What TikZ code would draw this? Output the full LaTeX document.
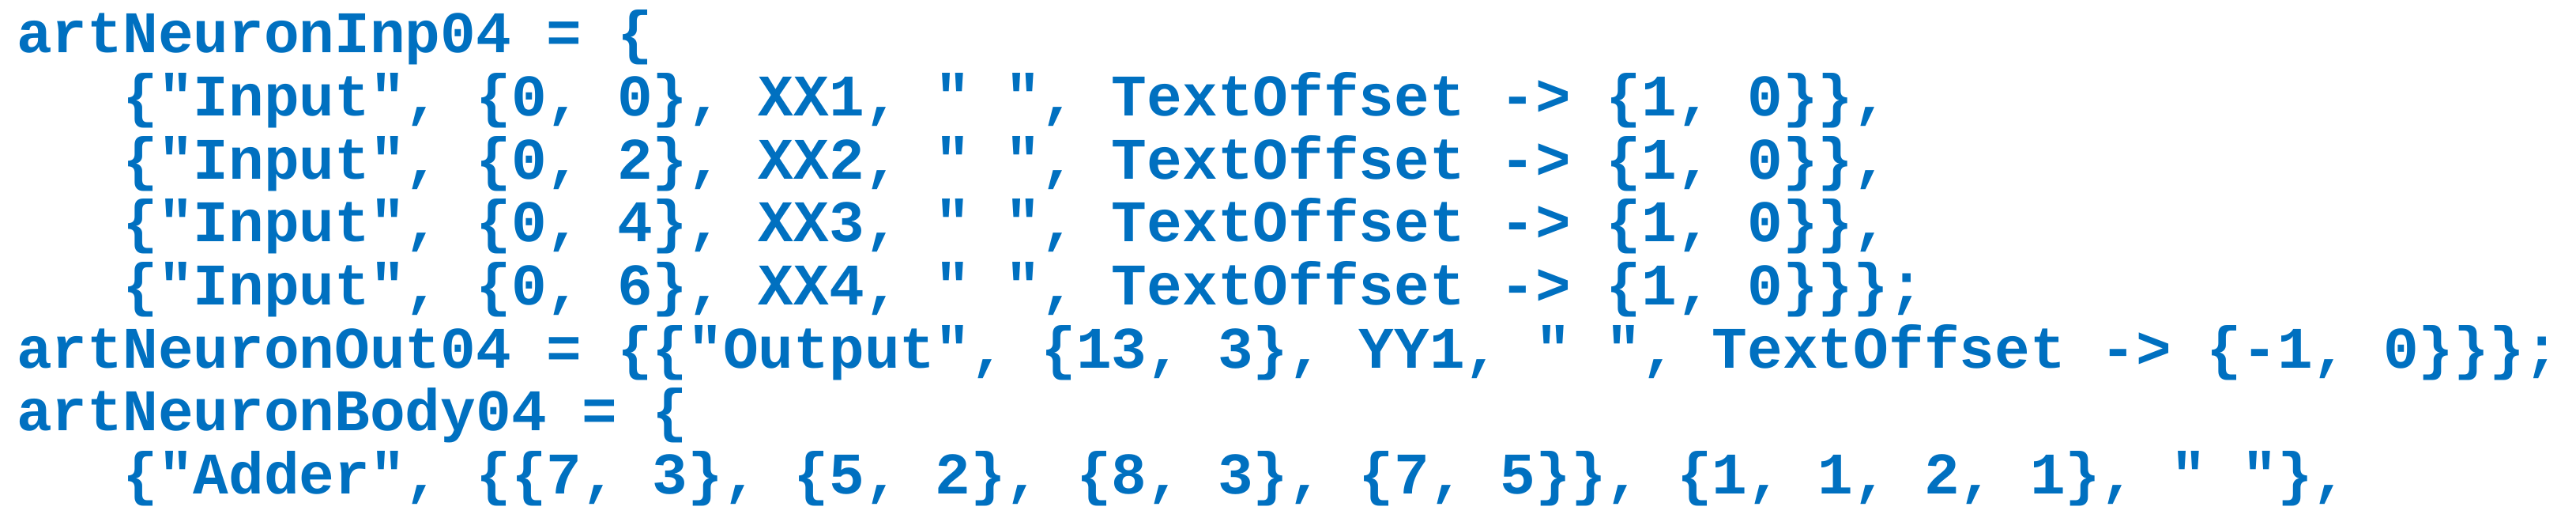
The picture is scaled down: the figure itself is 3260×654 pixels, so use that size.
\documentclass[tikz,border=0pt]{standalone}
\usepackage{fontspec}
\setmonofont{Liberation Mono}
\definecolor{codeblue}{RGB}{0,112,192}
\begin{document}
\begin{tikzpicture}[x=1pt,y=1pt,
  codeline/.style={anchor=base west,inner sep=0pt,text=codeblue,font=\ttfamily\bfseries\fontsize{74.5}{80}\selectfont}]
\useasboundingbox (0,0) rectangle (3260,654);
\def\ls{79.6}
\node[codeline] (l1) at (21,587) {artNeuronInp04 = \{};
\node[codeline] (l2) at (21,587-\ls) {\ \ \ \{"Input", \{0, 0\}, XX1, " ", TextOffset -> \{1, 0\}\},};
\node[codeline] (l3) at (21,587-2*\ls) {\ \ \ \{"Input", \{0, 2\}, XX2, " ", TextOffset -> \{1, 0\}\},};
\node[codeline] (l4) at (21,587-3*\ls) {\ \ \ \{"Input", \{0, 4\}, XX3, " ", TextOffset -> \{1, 0\}\},};
\node[codeline] (l5) at (21,587-4*\ls) {\ \ \ \{"Input", \{0, 6\}, XX4, " ", TextOffset -> \{1, 0\}\}\};};
\node[codeline] (l6) at (21,587-5*\ls) {artNeuronOut04 = \{\{"Output", \{13, 3\}, YY1, " ", TextOffset -> \{-1, 0\}\}\};};
\node[codeline] (l7) at (21,587-6*\ls) {artNeuronBody04 = \{};
\node[codeline] (l8) at (21,587-7*\ls) {\ \ \ \{"Adder", \{\{7, 3\}, \{5, 2\}, \{8, 3\}, \{7, 5\}\}, \{1, 1, 2, 1\}, " "\},};
\end{tikzpicture}
\end{document}
